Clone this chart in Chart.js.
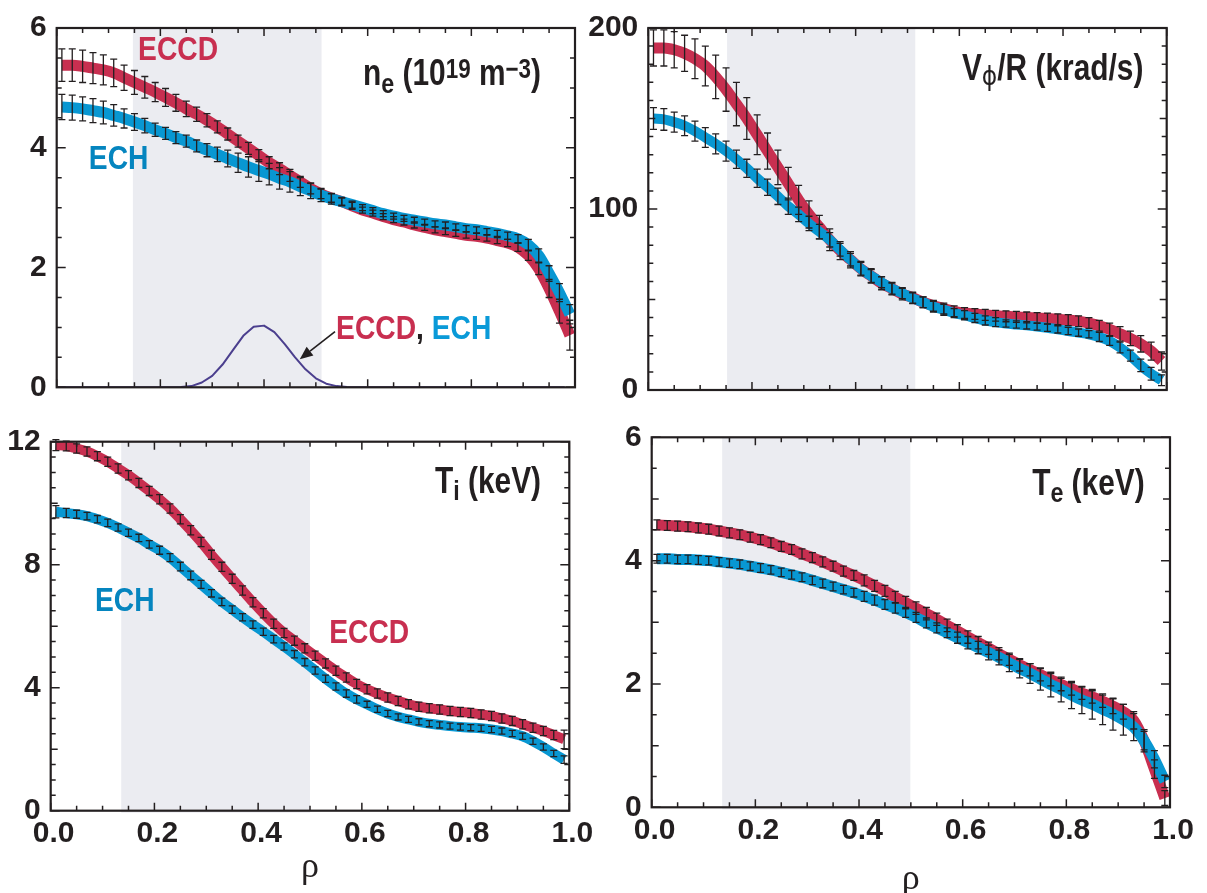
<!DOCTYPE html>
<html>
<head>
<meta charset="utf-8">
<script src="https://cdn.jsdelivr.net/npm/chart.js@4.4.1/dist/chart.umd.min.js"></script>
<style>
  html, body { margin: 0; padding: 0; background: #ffffff; }
  #wrap { position: relative; width: 1207px; height: 893px; overflow: hidden; background: #fff; }
  #wrap canvas { position: absolute; left: 0; top: 0; }
</style>
</head>
<body>
<div id="wrap">
  <canvas id="cNe" width="1207" height="893"></canvas>
  <canvas id="cRot" width="1207" height="893"></canvas>
  <canvas id="cTi" width="1207" height="893"></canvas>
  <canvas id="cTe" width="1207" height="893"></canvas>
</div>
<script>
// Normalized radius grid of the profile fits
const rho = [0.01, 0.03, 0.05, 0.07, 0.09, 0.11, 0.13, 0.15, 0.17, 0.19,
             0.21, 0.23, 0.25, 0.27, 0.29, 0.31, 0.33, 0.35, 0.37, 0.39,
             0.41, 0.43, 0.45, 0.47, 0.49, 0.51, 0.53, 0.55, 0.57, 0.59,
             0.61, 0.63, 0.65, 0.67, 0.69, 0.71, 0.73, 0.75, 0.77, 0.79,
             0.81, 0.83, 0.85, 0.87, 0.89, 0.91, 0.93, 0.95, 0.97, 0.99];

// Electron density n_e (10^19 m^-3)
const neEccd = [5.38, 5.38, 5.36, 5.33, 5.30, 5.25, 5.17, 5.09, 5.01, 4.93,
                4.84, 4.75, 4.65, 4.56, 4.46, 4.35, 4.23, 4.11, 3.99, 3.87,
                3.75, 3.65, 3.54, 3.43, 3.32, 3.23, 3.16, 3.10, 3.03, 2.96,
                2.91, 2.85, 2.80, 2.76, 2.71, 2.67, 2.63, 2.60, 2.57, 2.54,
                2.52, 2.49, 2.45, 2.41, 2.34, 2.20, 1.98, 1.65, 1.27, 0.87];
const neEch  = [4.68, 4.67, 4.65, 4.62, 4.59, 4.54, 4.49, 4.43, 4.37, 4.30,
                4.24, 4.17, 4.11, 4.03, 3.96, 3.89, 3.82, 3.75, 3.68, 3.62,
                3.56, 3.49, 3.43, 3.35, 3.28, 3.21, 3.15, 3.10, 3.05, 3.00,
                2.95, 2.90, 2.86, 2.82, 2.79, 2.76, 2.73, 2.71, 2.68, 2.65,
                2.63, 2.60, 2.57, 2.53, 2.48, 2.38, 2.20, 1.90, 1.58, 1.22];
const neErrEccd = [0.27, 0.27, 0.27, 0.26, 0.25, 0.23, 0.21, 0.20, 0.18, 0.16,
                   0.15, 0.14, 0.13, 0.12, 0.11, 0.10, 0.10, 0.10, 0.10, 0.10,
                   0.10, 0.10, 0.10, 0.09, 0.09, 0.08, 0.07, 0.06, 0.06, 0.05,
                   0.05, 0.05, 0.05, 0.05, 0.05, 0.05, 0.05, 0.05, 0.05, 0.05,
                   0.05, 0.05, 0.05, 0.06, 0.07, 0.08, 0.10, 0.15, 0.20, 0.25];
const neErrEch  = [0.21, 0.21, 0.20, 0.20, 0.19, 0.18, 0.16, 0.14, 0.12, 0.11,
                   0.10, 0.10, 0.10, 0.10, 0.11, 0.12, 0.14, 0.16, 0.17, 0.18,
                   0.18, 0.18, 0.17, 0.15, 0.13, 0.11, 0.09, 0.07, 0.06, 0.05,
                   0.05, 0.05, 0.05, 0.05, 0.05, 0.05, 0.05, 0.05, 0.05, 0.05,
                   0.05, 0.05, 0.05, 0.06, 0.07, 0.09, 0.11, 0.13, 0.15, 0.16];

// EC power deposition profile (arbitrary units, shared by ECCD and ECH)
const rhoDep = [0.00, 0.10, 0.20, 0.24, 0.26, 0.28, 0.30, 0.32, 0.34, 0.36, 0.38, 0.40,
                0.42, 0.44, 0.46, 0.48, 0.50, 0.52, 0.54, 0.56, 0.60, 0.80, 0.98];
const depProfile = [0, 0, 0, 0.005, 0.02, 0.08, 0.19, 0.38, 0.62, 0.86, 1.01, 1.03,
                    0.92, 0.72, 0.50, 0.30, 0.15, 0.06, 0.02, 0.005, 0, 0, 0];

// Toroidal rotation V_phi/R (krad/s)
const rotEccd = [189, 189, 188, 186, 183, 179, 173, 166, 158, 150,
                 141, 132, 123, 114, 105, 97, 90, 83, 77, 72,
                 67, 63, 59, 56, 53, 51, 48.5, 46.5, 45, 43.5,
                 42.5, 42, 41.5, 41, 40.7, 40.4, 40.1, 39.8, 39.5, 39.1,
                 38.6, 38, 37, 35.5, 33.5, 31, 28.5, 25.5, 21.5, 16];
const rotEch  = [150, 149.5, 148, 146, 143, 139.5, 136, 132, 127.5, 122.5,
                 117, 112, 107, 101.5, 97, 92, 87.5, 83, 77.5, 72,
                 67, 63, 59.5, 56, 53.5, 50.7, 48.5, 46, 44.3, 42.5,
                 41.3, 39.8, 38.4, 37.5, 36.7, 36.2, 35.7, 35.1, 34.4, 33.5,
                 32.6, 31.7, 30.8, 29.3, 27.1, 23.5, 19, 13.6, 9, 5.4];
const rotErrEccd = [10, 10, 10, 10, 11, 11, 12, 12, 12, 11.5,
                    11, 10, 9.5, 9, 8, 7.5, 6.5, 6, 5, 4.5,
                    4, 4, 3.6, 3.4, 3.2, 3, 3, 3, 3, 3,
                    3, 3, 3, 3, 3, 3, 3, 3, 3, 3,
                    3, 3, 3, 3, 3.5, 4, 4, 4.5, 5, 5];
const rotErrEch  = [6, 6, 5.5, 5.5, 5.5, 5.5, 5.5, 5.5, 5, 5,
                    5, 4.5, 4.5, 4.5, 4, 4, 4, 4, 3.5, 3.5,
                    3.5, 3.5, 3, 3, 3, 3, 3, 3, 3, 2.5,
                    2.5, 2.5, 2.5, 2.5, 2, 2, 2, 2, 2, 2,
                    2, 2, 2, 2.5, 2.5, 3, 3, 3.5, 3.5, 3];

// Ion temperature T_i (keV)
const tiEccd = [11.89, 11.86, 11.78, 11.68, 11.53, 11.35, 11.13, 10.91, 10.66, 10.40,
                10.13, 9.83, 9.48, 9.12, 8.74, 8.32, 7.93, 7.54, 7.16, 6.78,
                6.42, 6.08, 5.78, 5.53, 5.28, 5.04, 4.79, 4.55, 4.33, 4.12,
                3.95, 3.81, 3.68, 3.57, 3.46, 3.38, 3.33, 3.29, 3.24, 3.21,
                3.18, 3.13, 3.08, 3.00, 2.92, 2.81, 2.70, 2.59, 2.46, 2.32];
const tiEch  = [9.72, 9.68, 9.64, 9.58, 9.48, 9.36, 9.21, 9.04, 8.87, 8.66,
                8.47, 8.23, 7.94, 7.65, 7.36, 7.07, 6.79, 6.54, 6.29, 6.05,
                5.82, 5.58, 5.34, 5.09, 4.83, 4.56, 4.29, 4.04, 3.81, 3.62,
                3.46, 3.30, 3.16, 3.05, 2.97, 2.89, 2.83, 2.79, 2.75, 2.72,
                2.70, 2.68, 2.64, 2.59, 2.51, 2.42, 2.26, 2.07, 1.86, 1.66];
const tiErrEccd = [0.18, 0.16, 0.15, 0.15, 0.15, 0.15, 0.15, 0.15, 0.15, 0.15,
                   0.15, 0.15, 0.15, 0.15, 0.15, 0.15, 0.15, 0.15, 0.15, 0.15,
                   0.15, 0.15, 0.15, 0.15, 0.15, 0.15, 0.15, 0.15, 0.15, 0.15,
                   0.15, 0.15, 0.15, 0.15, 0.15, 0.15, 0.15, 0.15, 0.15, 0.15,
                   0.15, 0.15, 0.15, 0.15, 0.15, 0.15, 0.15, 0.15, 0.15, 0.30];
const tiErrEch  = [0.20, 0.15, 0.13, 0.12, 0.12, 0.12, 0.12, 0.12, 0.12, 0.12,
                   0.13, 0.13, 0.14, 0.14, 0.13, 0.12, 0.12, 0.12, 0.12, 0.12,
                   0.12, 0.12, 0.12, 0.12, 0.12, 0.12, 0.12, 0.12, 0.12, 0.12,
                   0.10, 0.10, 0.10, 0.10, 0.10, 0.10, 0.10, 0.10, 0.10, 0.10,
                   0.10, 0.10, 0.10, 0.10, 0.10, 0.10, 0.10, 0.10, 0.10, 0.12];

// Electron temperature T_e (keV)
const teEccd = [4.58, 4.57, 4.56, 4.55, 4.53, 4.51, 4.48, 4.45, 4.42, 4.38,
                4.34, 4.29, 4.23, 4.18, 4.11, 4.05, 3.98, 3.91, 3.83, 3.76,
                3.68, 3.59, 3.51, 3.41, 3.32, 3.23, 3.14, 3.05, 2.95, 2.86,
                2.76, 2.67, 2.58, 2.49, 2.40, 2.31, 2.23, 2.15, 2.07, 1.99,
                1.92, 1.85, 1.79, 1.72, 1.64, 1.55, 1.41, 1.08, 0.62, 0.15];
const teEch  = [4.03, 4.03, 4.02, 4.02, 4.01, 4.00, 3.98, 3.96, 3.94, 3.91,
                3.88, 3.85, 3.81, 3.77, 3.73, 3.68, 3.63, 3.58, 3.53, 3.48,
                3.42, 3.36, 3.29, 3.23, 3.16, 3.08, 2.99, 2.91, 2.83, 2.75,
                2.67, 2.59, 2.51, 2.43, 2.34, 2.25, 2.17, 2.08, 1.99, 1.91,
                1.82, 1.74, 1.67, 1.59, 1.51, 1.42, 1.30, 1.08, 0.78, 0.42];
const teErrEccd = [0.08, 0.08, 0.08, 0.08, 0.08, 0.08, 0.08, 0.08, 0.08, 0.08,
                   0.08, 0.08, 0.08, 0.08, 0.08, 0.08, 0.08, 0.08, 0.08, 0.08,
                   0.09, 0.09, 0.09, 0.09, 0.10, 0.10, 0.10, 0.10, 0.10, 0.10,
                   0.10, 0.10, 0.10, 0.10, 0.10, 0.10, 0.10, 0.10, 0.10, 0.10,
                   0.10, 0.10, 0.10, 0.10, 0.12, 0.12, 0.14, 0.15, 0.15, 0.12];
const teErrEch  = [0.07, 0.07, 0.07, 0.07, 0.07, 0.07, 0.07, 0.07, 0.07, 0.07,
                   0.07, 0.07, 0.07, 0.07, 0.07, 0.07, 0.07, 0.07, 0.07, 0.07,
                   0.08, 0.08, 0.08, 0.08, 0.08, 0.08, 0.08, 0.08, 0.08, 0.09,
                   0.10, 0.10, 0.12, 0.12, 0.14, 0.15, 0.16, 0.18, 0.20, 0.20,
                   0.22, 0.22, 0.24, 0.25, 0.26, 0.25, 0.22, 0.18, 0.14, 0.10];

// Radial extent of the EC deposition region in each panel (rho)
const shadeNe  = [0.147, 0.511];
const shadeRot = [0.152, 0.515];
const shadeTi  = [0.136, 0.500];
const shadeTe  = [0.136, 0.499];

// Axis ranges and tick steps
const xTickLabels = ['0.0', '0.2', '0.4', '0.6', '0.8', '1.0'];
const neAxis  = { min: 0, max: 6,   major: 2,   mid: 2,  minor: 0.5 };
const rotAxis = { min: 0, max: 200, major: 100, mid: 50, minor: 10 };
const tiAxis  = { min: 0, max: 12,  major: 4,   mid: 2,  minor: 0.5 };
const teAxis  = { min: 0, max: 6,   major: 2,   mid: 1,  minor: 0.5 };

const TICK_FONT = "'Liberation Sans', Arial, sans-serif";
const LABEL_FONT = "'Liberation Sans', Arial, sans-serif";
const NARROW = 0.83;   // horizontal squeeze for the condensed annotation lettering
const INK = '#231f20';
const RED = '#c82f50';
const BLUE = '#0897d2';
const BLUE_TEXT = '#0585bf';
const BLUE_LIGHT = '#0a9ad8';
const SHADE = '#ebecf1';
const PURPLE = '#4b3f8e';

const pts = (xs, ys) => xs.map((r, i) => ({ x: r, y: ys[i] }));

// Shaded band, error bars, frame with inward ticks, annotations
const panelDecor = {
  id: 'panelDecor',
  beforeDatasetsDraw(chart, args, o) {
    const { ctx, chartArea: a, scales: { x } } = chart;
    if (!o.shade) return;
    const x0 = x.getPixelForValue(o.shade[0]);
    const x1 = x.getPixelForValue(o.shade[1]);
    ctx.save();
    ctx.fillStyle = SHADE;
    ctx.fillRect(x0, a.top, x1 - x0, a.bottom - a.top + (o.shadeDrop || 0));
    ctx.restore();
  },
  afterDatasetsDraw(chart, args, o) {
    const { ctx, scales: { x, y } } = chart;
    ctx.save();
    ctx.strokeStyle = INK;
    ctx.lineWidth = 1.3;
    (o.errorBars || []).forEach(eb => {
      eb.values.forEach((v, i) => {
        const e = eb.errors[i];
        const px = x.getPixelForValue(eb.rho[i]);
        const yt = y.getPixelForValue(v + e);
        const yb = y.getPixelForValue(v - e);
        ctx.beginPath();
        ctx.moveTo(px, yt); ctx.lineTo(px, yb);
        ctx.moveTo(px - 3.5, yt); ctx.lineTo(px + 3.5, yt);
        ctx.moveTo(px - 3.5, yb); ctx.lineTo(px + 3.5, yb);
        ctx.stroke();
      });
    });
    ctx.restore();
  },
  afterDraw(chart, args, o) {
    const { ctx, chartArea: a, scales: { x, y } } = chart;
    ctx.save();
    // inward tick marks on all four sides
    ctx.strokeStyle = INK;
    ctx.lineWidth = 1.5;
    ctx.beginPath();
    for (let i = 0; i <= 20; i++) {
      const px = x.getPixelForValue(i * 0.05);
      const len = (i % 4 === 0) ? 8 : 5;
      ctx.moveTo(px, a.bottom); ctx.lineTo(px, a.bottom - len);
      ctx.moveTo(px, a.top); ctx.lineTo(px, a.top + len);
    }
    const ax = o.axis;
    const n = Math.round((ax.max - ax.min) / ax.minor);
    for (let k = 0; k <= n; k++) {
      const v = ax.min + k * ax.minor;
      const py = y.getPixelForValue(v);
      const isMajor = Math.abs(v / ax.major - Math.round(v / ax.major)) < 1e-6;
      const isMid = Math.abs(v / ax.mid - Math.round(v / ax.mid)) < 1e-6;
      const len = isMajor ? 9 : (isMid ? 7 : 5);
      ctx.moveTo(a.left, py); ctx.lineTo(a.left + len, py);
      ctx.moveTo(a.right, py); ctx.lineTo(a.right - len, py);
    }
    ctx.stroke();
    // frame
    ctx.lineWidth = 2.2;
    ctx.strokeRect(a.left, a.top, a.right - a.left, a.bottom - a.top);

    // arrow
    if (o.arrow) {
      const x0 = x.getPixelForValue(o.arrow.from[0]), y0 = y.getPixelForValue(o.arrow.from[1]);
      const x1 = x.getPixelForValue(o.arrow.to[0]), y1 = y.getPixelForValue(o.arrow.to[1]);
      const ang = Math.atan2(y1 - y0, x1 - x0);
      const hl = 13, hw = 5.5;
      const bx = x1 - hl * Math.cos(ang), by = y1 - hl * Math.sin(ang);
      ctx.lineWidth = 1.6;
      ctx.beginPath();
      ctx.moveTo(x0, y0); ctx.lineTo(bx, by);
      ctx.stroke();
      ctx.fillStyle = INK;
      ctx.beginPath();
      ctx.moveTo(x1, y1);
      ctx.lineTo(bx + hw * Math.sin(ang), by - hw * Math.cos(ang));
      ctx.lineTo(bx - hw * Math.sin(ang), by + hw * Math.cos(ang));
      ctx.closePath();
      ctx.fill();
    }

    // text annotations, left-aligned on the baseline, condensed lettering
    (o.texts || []).forEach(t => {
      let px = x.getPixelForValue(t.x);
      const py = y.getPixelForValue(t.y);
      t.runs.forEach(r => {
        const sx = r.sx || NARROW;
        ctx.font = `${r.weight || 'bold'} ${r.size}px ${r.family || LABEL_FONT}`;
        ctx.fillStyle = r.color || INK;
        ctx.textAlign = 'left';
        ctx.textBaseline = 'alphabetic';
        ctx.save();
        ctx.translate(px, py + (r.dy || 0));
        ctx.scale(sx, 1);
        ctx.fillText(r.t, 0, 0);
        ctx.restore();
        px += ctx.measureText(r.t).width * sx + (r.gap || 0);
      });
    });
    ctx.restore();
  }
};

function makePanel(id, p) {
  const W = 1207, H = 893, yW = 70;
  const xH = p.bottomAxis ? (H - p.box.bottom) : 0;
  const datasets = p.series.map(s => ({
    data: pts(s.rho, s.values),
    borderColor: s.color,
    borderWidth: s.width,
    pointRadius: 0,
    fill: false,
    tension: s.tension,
    cubicInterpolationMode: s.tension ? 'monotone' : 'default',
    borderCapStyle: 'butt',
    borderJoinStyle: 'round'
  }));
  return new Chart(document.getElementById(id), {
    type: 'line',
    data: { datasets },
    plugins: [panelDecor],
    options: {
      responsive: false,
      animation: false,
      devicePixelRatio: 1,
      layout: {
        padding: {
          left: p.box.left - yW,
          top: p.box.top,
          right: W - p.box.right,
          bottom: p.bottomAxis ? 0 : H - p.box.bottom
        }
      },
      plugins: {
        legend: { display: false },
        tooltip: { enabled: false },
        panelDecor: {
          shade: p.shade,
          shadeDrop: p.bottomAxis ? 2 : 0,
          errorBars: p.errorBars,
          axis: p.axis,
          texts: p.texts,
          arrow: p.arrow
        }
      },
      scales: {
        x: {
          type: 'linear',
          min: 0, max: 1,
          grid: { display: false, drawTicks: false },
          border: { display: false },
          ticks: {
            display: !!p.bottomAxis,
            stepSize: 0.2,
            padding: 5,
            labelOffset: 3,
            maxRotation: 0,
            autoSkip: false,
            color: INK,
            font: { family: TICK_FONT, size: 30, weight: 'bold' },
            callback: (v) => xTickLabels[Math.round(v / 0.2)]
          },
          title: p.bottomAxis ? {
            display: true,
            text: 'ρ',
            color: INK,
            font: { family: "'Liberation Serif', 'DejaVu Serif', serif", size: 36, weight: 'normal', lineHeight: 1.2 },
            padding: { top: 0, bottom: p.rhoPad }
          } : { display: false },
          afterFit: (s) => { s.height = xH; }
        },
        y: {
          type: 'linear',
          min: p.axis.min, max: p.axis.max,
          grid: { display: false, drawTicks: false },
          border: { display: false },
          ticks: {
            stepSize: p.axis.major,
            padding: 10,
            color: INK,
            font: { family: TICK_FONT, size: 30, weight: 'bold' }
          },
          afterFit: (s) => { s.width = yW; }
        }
      }
    }
  });
}

// n_e panel
makePanel('cNe', {
  box: { left: 56.7, top: 19, right: 575, bottom: 387.3 },
  axis: neAxis,
  shade: shadeNe,
  series: [
    { rho: rho, values: neEch,  color: BLUE, width: 11, tension: 0.4 },
    { rho: rho, values: neEccd, color: RED,  width: 11, tension: 0.4 },
    { rho: rhoDep, values: depProfile, color: PURPLE, width: 2, tension: 0 }
  ],
  errorBars: [
    { rho: rho, values: neEccd, errors: neErrEccd },
    { rho: rho, values: neEch,  errors: neErrEch }
  ],
  arrow: { from: [0.537, 0.93], to: [0.469, 0.47] },
  texts: [
    { x: 0.157, y: 5.46, runs: [{ t: 'ECCD', size: 34, color: RED }] },
    { x: 0.062, y: 3.65, runs: [{ t: 'ECH', size: 34, color: BLUE_TEXT }] },
    { x: 0.539, y: 0.80, runs: [
      { t: 'ECCD', size: 34, color: RED },
      { t: ', ', size: 34, color: INK },
      { t: 'ECH', size: 34, color: BLUE_LIGHT }
    ] },
    { x: 0.591, y: 5.05, runs: [
      { t: 'n', size: 36 },
      { t: 'e', size: 28, dy: 8 },
      { t: ' (10', size: 36 },
      { t: '19', size: 27, dy: -7 },
      { t: ' m', size: 36 },
      { t: '−3', size: 27, dy: -7 },
      { t: ')', size: 36 }
    ] }
  ]
});

// Rotation panel
makePanel('cRot', {
  box: { left: 648.3, top: 22.3, right: 1166.7, bottom: 390 },
  axis: rotAxis,
  shade: shadeRot,
  series: [
    { rho: rho, values: rotEch,  color: BLUE, width: 10, tension: 0.4 },
    { rho: rho, values: rotEccd, color: RED,  width: 11, tension: 0.4 }
  ],
  errorBars: [
    { rho: rho, values: rotEccd, errors: rotErrEccd },
    { rho: rho, values: rotEch,  errors: rotErrEch }
  ],
  texts: [
    { x: 0.605, y: 171.3, runs: [
      { t: 'V', size: 36 },
      { t: 'ϕ', size: 26, dy: 5, weight: 'normal', family: "'DejaVu Sans', sans-serif", sx: 0.9 },
      { t: '/R (krad/s)', size: 36 }
    ] }
  ]
});

// Ion temperature panel
makePanel('cTi', {
  box: { left: 50.7, top: 441.7, right: 569.3, bottom: 810.7 },
  bottomAxis: true,
  rhoPad: 4,
  axis: tiAxis,
  shade: shadeTi,
  series: [
    { rho: rho, values: tiEch,  color: BLUE, width: 10, tension: 0.4 },
    { rho: rho, values: tiEccd, color: RED,  width: 10, tension: 0.4 }
  ],
  errorBars: [
    { rho: rho, values: tiEccd, errors: tiErrEccd },
    { rho: rho, values: tiEch,  errors: tiErrEch }
  ],
  texts: [
    { x: 0.0854, y: 6.49, runs: [{ t: 'ECH', size: 34, color: BLUE_TEXT }] },
    { x: 0.537, y: 5.45, runs: [{ t: 'ECCD', size: 34, color: RED }] },
    { x: 0.741, y: 10.33, runs: [
      { t: 'T', size: 36 },
      { t: 'i', size: 28, dy: 7 },
      { t: ' (keV)', size: 36 }
    ] }
  ]
});

// Electron temperature panel
makePanel('cTe', {
  box: { left: 651.7, top: 437.3, right: 1170, bottom: 807.3 },
  bottomAxis: true,
  rhoPad: -8,
  axis: teAxis,
  shade: shadeTe,
  series: [
    { rho: rho, values: teEch,  color: BLUE, width: 11, tension: 0.4 },
    { rho: rho, values: teEccd, color: RED,  width: 11, tension: 0.4 }
  ],
  errorBars: [
    { rho: rho, values: teEccd, errors: teErrEccd },
    { rho: rho, values: teEch,  errors: teErrEch }
  ],
  texts: [
    { x: 0.734, y: 5.06, runs: [
      { t: 'T', size: 36 },
      { t: 'e', size: 28, dy: 7 },
      { t: ' (keV)', size: 36 }
    ] }
  ]
});
</script>
</body>
</html>
